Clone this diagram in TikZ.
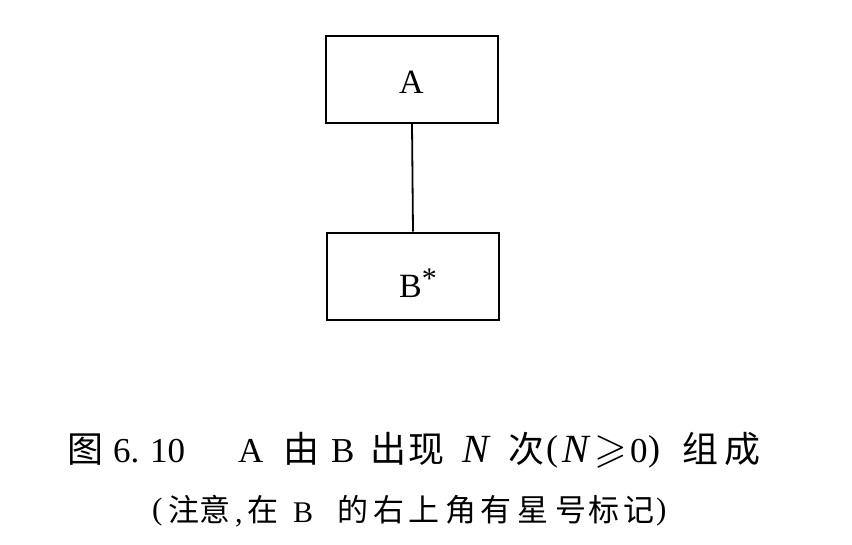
\documentclass[tikz,border=0pt]{standalone}
\usepackage{amssymb}
\usepackage{fontspec}
\setmainfont{Liberation Serif}
\newfontfamily\cjk{Noto Sans CJK SC}
\begin{document}
\begin{tikzpicture}[x=1pt,y=-1pt,
  box/.style={draw, line width=2pt, minimum width=172pt, minimum height=87pt, inner sep=0pt},
  link/.style={line width=1.8pt},
  lbl/.style={inner sep=0pt, anchor=base west, font=\fontsize{34}{40}\selectfont},
  ca/.style={inner sep=0pt, anchor=base west, font=\fontsize{36}{40}\selectfont\cjk},
  la/.style={inner sep=0pt, anchor=base west, font=\fontsize{35}{40}\selectfont},
  lN/.style={inner sep=0pt, anchor=base west, font=\fontsize{40}{44}\selectfont\itshape},
  cb/.style={inner sep=0pt, anchor=base west, font=\fontsize{31}{36}\selectfont\cjk},
  lb/.style={inner sep=0pt, anchor=base west, font=\fontsize{30}{34}\selectfont}]
\useasboundingbox (0,0) rectangle (852,544);
\node[box] (A) at (412,79) {};
\node[box] (B) at (413,276) {};
\draw[link] (A.south) -- (B.north);
\node[lbl] (tA) at (399,93) {A};
\node[lbl] (tB) at (399,297) {B\raisebox{9pt}{\fontsize{30}{34}\selectfont *}};
% caption line 1
\foreach \x/\t [count=\i] in {67/图,283/由,370/出,408/现,508/次,682/组,724/成}
  \node[ca] (c1\i) at (\x,462) {\t};
\foreach \x/\t [count=\i] in {113/6.,150/10,238/A,331/B,630/0}
  \node[la] (l1\i) at (\x,462) {\t};
\node[la, font=\fontsize{36}{40}\selectfont] (lp1) at (546,460) {(};
\node[la, font=\fontsize{36}{40}\selectfont] (rp1) at (648,460) {)};
\node[lN] (n1) at (462,462) {N};
\node[lN] (n2) at (562,462) {N};
\node[lN, font=\fontsize{42}{46}\selectfont] (ge) at (594,462) {$\geqslant$};
% caption line 2
\foreach \x/\t [count=\i] in {168/注,199/意,247/在,337/的,373/右,408/上,445/角,480/有,517/星,555/号,588/标,623/记}
  \node[cb] (c2\i) at (\x,521) {\t};
\node[lb, font=\fontsize{31}{36}\selectfont] (lp2) at (152,519) {(};
\node[lb, font=\fontsize{31}{36}\selectfont] (rp2) at (656,519) {)};
\node[lb] (l2c) at (235,522) {,};
\node[lb] (l2b) at (293,522) {B};
\end{tikzpicture}
\end{document}
